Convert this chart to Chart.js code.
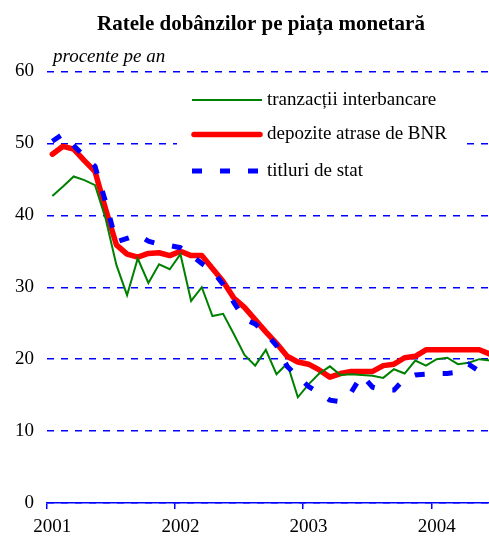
<!DOCTYPE html>
<html>
<head>
<meta charset="utf-8">
<script src="https://cdn.jsdelivr.net/npm/chart.js@4/dist/chart.umd.min.js"></script>
<style>
html,body{margin:0;padding:0;overflow:hidden;background:#fff;}
canvas{display:block;}
</style>
</head>
<body>
<canvas id="c" width="497" height="536"></canvas>
<script>
const title = 'Ratele dobânzilor pe piața monetară';
const unitLabel = 'procente pe an';
const years = ['2001', '2002', '2003', '2004'];
const months = [];
for (let y = 0; y < 4; y++) for (let m = 1; m <= 12; m++) months.push(years[y] + '-' + String(m).padStart(2, '0'));
const categories = months.slice(0, 42);

const seriesNames = ['tranzacții interbancare', 'depozite atrase de BNR', 'titluri de stat'];
const interbancare = [42.7, 44.0, 45.4, 44.9, 44.2, 39.5, 33.1, 28.9, 34.0, 30.6, 33.2, 32.5,
  34.6, 28.1, 30.0, 26.0, 26.3, 23.5, 20.6, 19.1, 21.3, 17.9, 19.4, 14.7,
  16.5, 18.0, 19.0, 17.8, 17.9, 17.8, 17.7, 17.4, 18.6, 18.0, 19.8, 19.1,
  20.0, 20.2, 19.3, 19.5, 20.0, 19.8];
const depozite = [48.5, 49.6, 49.2, 47.6, 46.1, 40.8, 35.9, 34.6, 34.2, 34.7, 34.8, 34.4,
  35.0, 34.4, 34.4, 32.6, 30.8, 28.5, 27.2, 25.5, 23.8, 22.2, 20.4, 19.6,
  19.3, 18.5, 17.5, 18.0, 18.3, 18.3, 18.3, 19.1, 19.3, 20.2, 20.4, 21.3,
  21.3, 21.3, 21.3, 21.3, 21.3, 20.7];
const titluri = [50.3, 51.3, 49.7, 48.2, 46.8, 41.8, 36.3, 36.8, 37.3, 36.4, 36.0, 35.8,
  35.5, 34.5, 33.3, 32.3, 30.4, 27.9, 25.6, 24.9, 23.6, 21.9, 19.0, 17.6,
  16.2, 15.3, 14.3, 14.1, 15.4, 17.8, 16.1, 15.7, 15.7, 17.3, 17.8, 17.9,
  18.0, 18.0, 18.2, 19.3, 18.3, 17.5];
const yTicks = [0, 10, 20, 30, 40, 50, 60];

const SERIF = '"Liberation Serif", "Times New Roman", serif';
const AXIS_BLUE = '#0000ff';

const decor = {
  id: 'decor',
  beforeDatasetsDraw(chart) {
    const ctx = chart.ctx;
    ctx.save();
    ctx.fillStyle = '#fff';
    ctx.fillRect(177, 80, 285, 110);
    ctx.restore();
  },
  afterDraw(chart) {
    const ctx = chart.ctx;
    ctx.save();
    ctx.fillStyle = '#000';
    ctx.textBaseline = 'alphabetic';
    ctx.font = 'bold 21px ' + SERIF;
    ctx.textAlign = 'center';
    ctx.fillText(title, 261, 30);
    ctx.font = 'italic 19px ' + SERIF;
    ctx.textAlign = 'left';
    ctx.fillText(unitLabel, 53, 62);
    const rows = [100, 134.5, 171];
    chart.data.datasets.forEach((ds, i) => {
      const y = rows[i];
      ctx.save();
      ctx.strokeStyle = ds.borderColor;
      ctx.lineWidth = ds.borderWidth;
      ctx.lineCap = ds.borderCapStyle || 'butt';
      ctx.setLineDash(ds.borderDash || []);
      ctx.beginPath();
      const x0 = ds.borderCapStyle === 'round' ? 194 : 192;
      const x1 = ds.borderCapStyle === 'round' ? 260 : 262;
      ctx.moveTo(x0, y);
      ctx.lineTo(x1, y);
      ctx.stroke();
      ctx.restore();
      ctx.font = '19px ' + SERIF;
      ctx.textBaseline = 'middle';
      ctx.fillStyle = '#000';
      ctx.fillText(ds.label, 267, y);
    });
    ctx.restore();
  }
};

new Chart(document.getElementById('c'), {
  type: 'line',
  data: {
    labels: categories,
    datasets: [
      { label: seriesNames[0], data: interbancare, borderColor: '#008000', borderWidth: 2,
        pointRadius: 0, tension: 0, order: 1, borderJoinStyle: 'miter' },
      { label: seriesNames[1], data: depozite, borderColor: '#ff0000', borderWidth: 5.5,
        pointRadius: 0, tension: 0, order: 2, borderCapStyle: 'round', borderJoinStyle: 'round' },
      { label: seriesNames[2], data: titluri, borderColor: '#0000ff', borderWidth: 5,
        borderDash: [10, 18], pointRadius: 0, tension: 0, order: 0 }
    ]
  },
  options: {
    responsive: false,
    animation: false,
    clip: false,
    layout: { padding: { top: 71.5, left: 0, right: 0, bottom: 0 } },
    plugins: { legend: { display: false }, tooltip: { enabled: false }, title: { display: false } },
    scales: {
      x: {
        type: 'category',
        offset: true,
        afterFit: s => { s.height = 33; },
        grid: {
          offset: true,
          drawOnChartArea: false,
          drawTicks: true,
          tickLength: 6,
          color: c => (c.index !== undefined && c.index % 12 === 0) ? AXIS_BLUE : 'rgba(255,255,255,0)',
          tickColor: c => (c.index !== undefined && c.index % 12 === 0) ? AXIS_BLUE : 'rgba(255,255,255,0)',
          lineWidth: 1.5,
          tickWidth: 1.5
        },
        border: { display: true, color: AXIS_BLUE, width: 1.5 },
        ticks: {
          autoSkip: false,
          maxRotation: 0,
          minRotation: 0,
          padding: 7,
          color: '#000',
          font: { family: SERIF, size: 19 },
          callback: (v, i) => (i % 12 === 0 ? categories[i].slice(0, 4) : '')
        }
      },
      y: {
        min: 0,
        max: 60,
        afterFit: s => { s.width = 47; },
        afterBuildTicks: s => { s.ticks = yTicks.map(v => ({ value: v })); },
        grid: {
          drawTicks: false,
          color: AXIS_BLUE,
          lineWidth: 1.5
        },
        border: { display: false, dash: [7, 7] },
        ticks: {
          padding: 13,
          color: '#000',
          font: { family: SERIF, size: 19 }
        }
      }
    }
  },
  plugins: [decor]
});
</script>
</body>
</html>
